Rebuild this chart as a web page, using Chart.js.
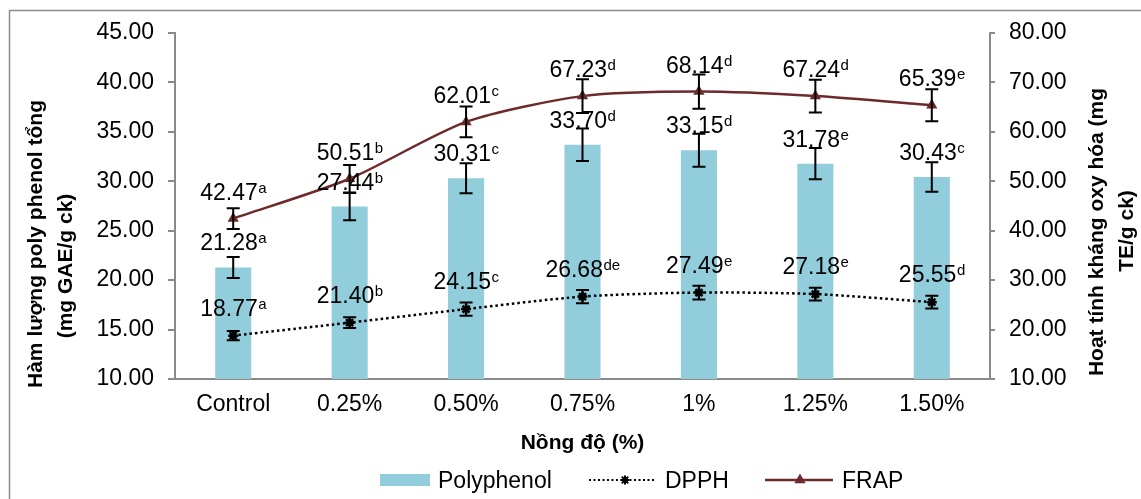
<!DOCTYPE html>
<html>
<head>
<meta charset="utf-8">
<script src="https://cdn.jsdelivr.net/npm/chart.js@4.4.0/dist/chart.umd.min.js"></script>
<style>
  html, body { margin: 0; padding: 0; background: #fff; }
  canvas { display: block; }
</style>
</head>
<body>
<canvas id="chart" width="1141" height="499"></canvas>
<script>
const categories = ["Control", "0.25%", "0.50%", "0.75%", "1%", "1.25%", "1.50%"];

const polyphenol = [21.28, 27.44, 30.31, 33.70, 33.15, 31.78, 30.43];
const polyphenolErr = [1.07, 1.38, 1.52, 1.65, 1.67, 1.58, 1.5];
const polyphenolSig = ["a", "b", "c", "d", "d", "e", "c"];

const dpph = [18.77, 21.40, 24.15, 26.68, 27.49, 27.18, 25.55];
const dpphErr = [0.95, 1.1, 1.35, 1.35, 1.4, 1.3, 1.3];
const dpphSig = ["a", "b", "c", "de", "e", "e", "d"];

const frap = [42.47, 50.51, 62.01, 67.23, 68.14, 67.24, 65.39];
const frapErr = [2.1, 2.8, 3.1, 3.4, 3.47, 3.3, 3.24];
const frapSig = ["a", "b", "c", "d", "d", "d", "e"];

const FONT = "'Liberation Sans', Arial, sans-serif";
const BAR_COLOR = "#92CDDC";
const FRAP_COLOR = "#6E2A2A";
const AXIS_COLOR = "#8a8a8a";
const TEXT_SIZE = 23;
const SUP_SIZE = 15;

function drawErrorBars(ctx, meta, values, errs, scale) {
  ctx.save();
  ctx.strokeStyle = "#000";
  ctx.lineWidth = 2;
  meta.data.forEach((el, i) => {
    const x = el.x;
    const top = scale.getPixelForValue(values[i] + errs[i]);
    const bot = scale.getPixelForValue(values[i] - errs[i]);
    ctx.beginPath();
    ctx.moveTo(x, top);
    ctx.lineTo(x, bot);
    ctx.moveTo(x - 6.5, top);
    ctx.lineTo(x + 6.5, top);
    ctx.moveTo(x - 6.5, bot);
    ctx.lineTo(x + 6.5, bot);
    ctx.stroke();
  });
  ctx.restore();
}

function drawLabel(ctx, x, y, num, sup) {
  ctx.font = TEXT_SIZE + "px " + FONT;
  const w1 = ctx.measureText(num).width;
  ctx.font = SUP_SIZE + "px " + FONT;
  const w2 = ctx.measureText(sup).width;
  const start = x - (w1 + w2) / 2;
  ctx.textAlign = "left";
  ctx.textBaseline = "alphabetic";
  ctx.fillStyle = "#000";
  ctx.font = TEXT_SIZE + "px " + FONT;
  ctx.fillText(num, start, y);
  ctx.font = SUP_SIZE + "px " + FONT;
  ctx.fillText(sup, start + w1 + 0.5, y - 7);
}

function rotatedText(ctx, text, x, y) {
  ctx.save();
  ctx.translate(x, y);
  ctx.rotate(-Math.PI / 2);
  ctx.textAlign = "center";
  ctx.textBaseline = "middle";
  ctx.fillText(text, 0, 0);
  ctx.restore();
}

const extras = {
  id: "extras",
  beforeDraw(chart) {
    const ctx = chart.ctx;
    ctx.save();
    ctx.fillStyle = "#fff";
    ctx.fillRect(0, 0, chart.width, chart.height);
    ctx.strokeStyle = "#8c8c8c";
    ctx.lineWidth = 1.5;
    ctx.strokeRect(9.5, 10.5, 1300, 600);
    ctx.restore();
  },
  afterDatasetsDraw(chart) {
    const ctx = chart.ctx;
    const yL = chart.scales.y;
    const yR = chart.scales.y1;
    const barMeta = chart.getDatasetMeta(0);
    const dpphMeta = chart.getDatasetMeta(1);
    const frapMeta = chart.getDatasetMeta(2);

    drawErrorBars(ctx, barMeta, polyphenol, polyphenolErr, yL);
    drawErrorBars(ctx, dpphMeta, dpph, dpphErr, yR);
    drawErrorBars(ctx, frapMeta, frap, frapErr, yR);

    ctx.save();
    barMeta.data.forEach((el, i) => {
      drawLabel(ctx, el.x, yL.getPixelForValue(polyphenol[i]) - 17, polyphenol[i].toFixed(2), polyphenolSig[i]);
    });
    dpphMeta.data.forEach((el, i) => {
      drawLabel(ctx, el.x, yR.getPixelForValue(dpph[i]) - 20, dpph[i].toFixed(2), dpphSig[i]);
    });
    frapMeta.data.forEach((el, i) => {
      drawLabel(ctx, el.x, yR.getPixelForValue(frap[i]) - 19, frap[i].toFixed(2), frapSig[i]);
    });
    ctx.restore();
  },
  afterDraw(chart) {
    const ctx = chart.ctx;
    const area = chart.chartArea;
    ctx.save();
    ctx.fillStyle = "#000";

    // axis titles
    ctx.font = "bold 21px " + FONT;
    rotatedText(ctx, "Hàm lượng poly phenol tổng", 36, 244);
    rotatedText(ctx, "(mg GAE/g ck)", 66, 266);
    rotatedText(ctx, "Hoạt tính kháng oxy hóa (mg", 1097, 232);
    rotatedText(ctx, "TE/g ck)", 1127, 231);
    ctx.textAlign = "center";
    ctx.textBaseline = "middle";
    ctx.fillText("Nồng độ (%)", (area.left + area.right) / 2, 443);

    // legend
    const ly = 480;
    ctx.fillStyle = BAR_COLOR;
    ctx.fillRect(380, 474, 50, 12);
    ctx.fillStyle = "#000";
    ctx.font = "23px " + FONT;
    ctx.textAlign = "left";
    ctx.textBaseline = "alphabetic";
    ctx.fillText("Polyphenol", 438, 488);
    ctx.fillText("DPPH", 665, 488);
    ctx.fillText("FRAP", 842, 488);

    ctx.strokeStyle = "#000";
    ctx.lineWidth = 2;
    ctx.setLineDash([2, 2.5]);
    ctx.beginPath();
    ctx.moveTo(589, ly);
    ctx.lineTo(656, ly);
    ctx.stroke();
    ctx.setLineDash([]);
    Chart.helpers.drawPoint(ctx, { pointStyle: "star", radius: 4.5, borderWidth: 2.5 }, 625, ly);

    ctx.strokeStyle = FRAP_COLOR;
    ctx.lineWidth = 2.5;
    ctx.beginPath();
    ctx.moveTo(765, ly);
    ctx.lineTo(833, ly);
    ctx.stroke();
    ctx.fillStyle = FRAP_COLOR;
    Chart.helpers.drawPoint(ctx, { pointStyle: "triangle", radius: 4, borderWidth: 1 }, 800, ly);
    ctx.fill();
    ctx.restore();
  }
};

const tickFont = { family: FONT, size: TEXT_SIZE };

new Chart(document.getElementById("chart"), {
  type: "bar",
  data: {
    labels: categories,
    datasets: [
      {
        label: "Polyphenol",
        data: polyphenol,
        yAxisID: "y",
        backgroundColor: BAR_COLOR,
        barPercentage: 0.31,
        categoryPercentage: 1,
        order: 3
      },
      {
        type: "line",
        label: "DPPH",
        data: dpph,
        yAxisID: "y1",
        borderColor: "#000",
        borderWidth: 2.5,
        borderDash: [2.5, 3],
        pointStyle: "star",
        pointRadius: 5,
        pointBorderWidth: 2.5,
        pointBorderColor: "#000",
        pointBackgroundColor: "#000",
        tension: 0.25,
        fill: false,
        order: 1
      },
      {
        type: "line",
        label: "FRAP",
        data: frap,
        yAxisID: "y1",
        borderColor: FRAP_COLOR,
        borderWidth: 2.5,
        pointStyle: "triangle",
        pointRadius: 4,
        pointBorderColor: FRAP_COLOR,
        pointBackgroundColor: FRAP_COLOR,
        tension: 0.25,
        fill: false,
        order: 2
      }
    ]
  },
  options: {
    responsive: false,
    devicePixelRatio: 1,
    animation: false,
    layout: { padding: { top: 33, left: 0, right: 0, bottom: 0 } },
    plugins: {
      legend: { display: false },
      tooltip: { enabled: false }
    },
    scales: {
      x: {
        offset: true,
        grid: { display: true, drawOnChartArea: false, drawTicks: false },
        border: { color: AXIS_COLOR, width: 2 },
        ticks: { font: tickFont, color: "#000", padding: 12, maxRotation: 0, autoSkip: false },
        afterFit(scale) { scale.height = 120; }
      },
      y: {
        position: "left",
        min: 10,
        max: 45,
        grid: { drawOnChartArea: false, tickLength: 7, color: AXIS_COLOR, lineWidth: 2 },
        border: { color: AXIS_COLOR, width: 2 },
        ticks: {
          stepSize: 5,
          font: tickFont,
          color: "#000",
          padding: 14,
          callback: v => Number(v).toFixed(2)
        },
        afterFit(scale) { scale.width = 175; }
      },
      y1: {
        position: "right",
        min: 10,
        max: 80,
        grid: { drawOnChartArea: false, tickLength: 5, color: AXIS_COLOR, lineWidth: 2 },
        border: { color: AXIS_COLOR, width: 2 },
        ticks: {
          stepSize: 10,
          font: tickFont,
          color: "#000",
          padding: 14,
          callback: v => Number(v).toFixed(2)
        },
        afterFit(scale) { scale.width = 151; }
      }
    }
  },
  plugins: [extras]
});
</script>
</body>
</html>
